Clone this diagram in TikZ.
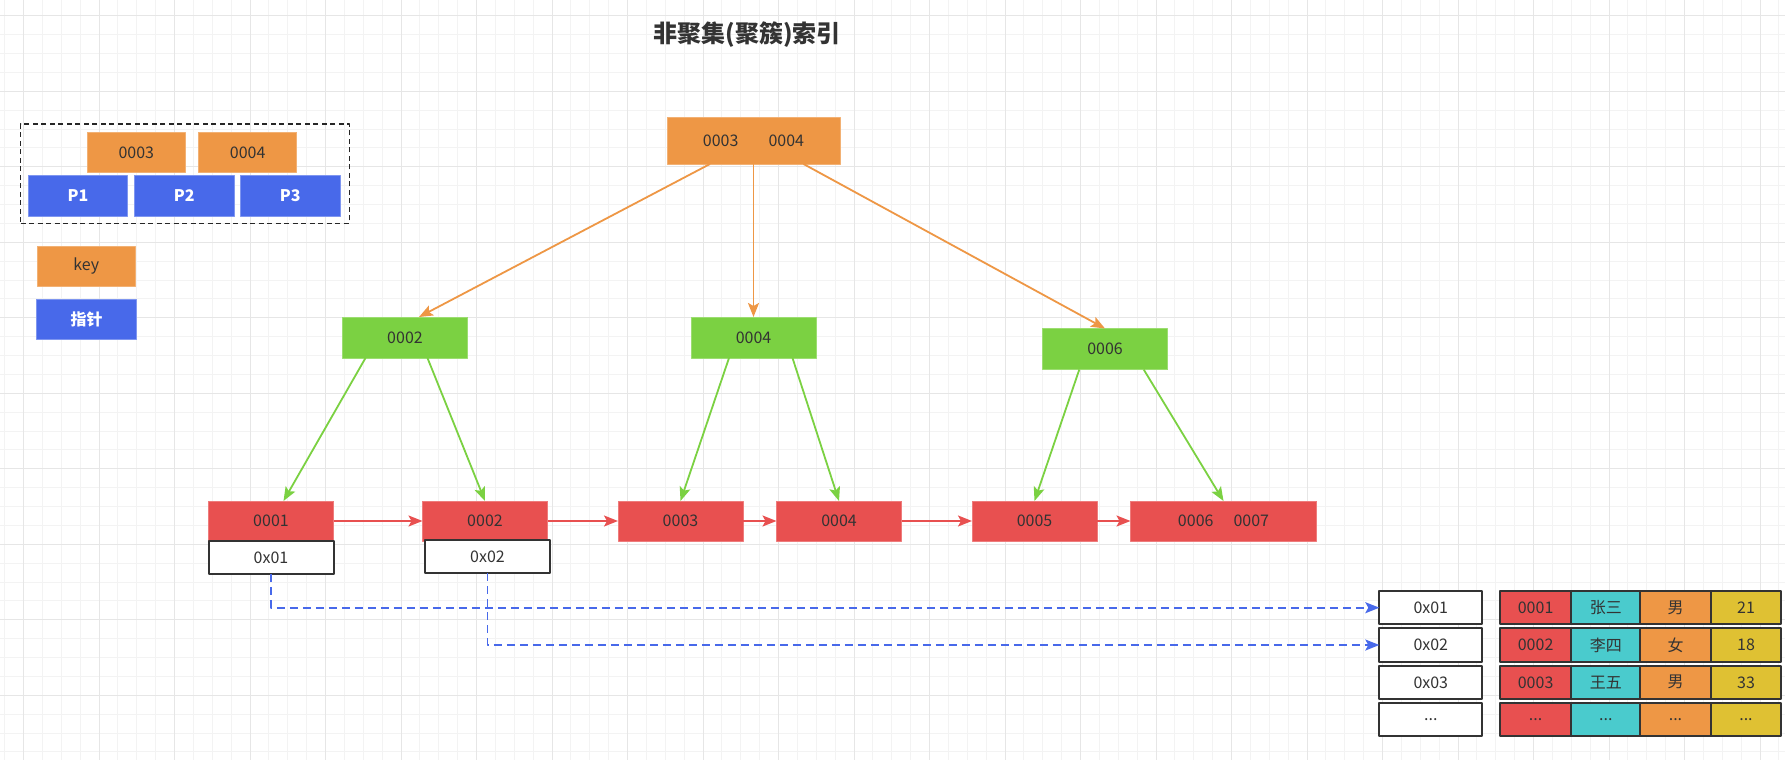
\documentclass[tikz,border=0pt]{standalone}
\usepackage{fontspec}
\setmainfont{Noto Sans CJK SC}
\usetikzlibrary{arrows.meta}
\definecolor{keyorange}{HTML}{EE9745}
\definecolor{ptrblue}{HTML}{4869EA}
\definecolor{innergreen}{HTML}{7BD142}
\definecolor{leafred}{HTML}{E85050}
\definecolor{namecyan}{HTML}{4ACBCD}
\definecolor{ageyellow}{HTML}{DFC133}
\definecolor{txtgray}{HTML}{333333}
\definecolor{gridminor}{HTML}{F3F3F3}
\definecolor{gridmajor}{HTML}{E6E6E6}
\def\dd{...}
\begin{document}
\begin{tikzpicture}[x=1pt,y=-1pt,font=\fontsize{16}{19}\selectfont,line join=round,
		>={Stealth[length=14pt,width=11pt,inset=3pt]},
		box/.style={inner sep=0pt,outer sep=0pt,text=txtgray,minimum width=125pt,minimum height=40pt},
		keybox/.style={box,fill=keyorange,draw=keyorange!75!white,line width=1pt},
		ptrbox/.style={box,fill=ptrblue,draw=ptrblue!70!white,line width=1pt,text=white,font=\fontsize{16}{19}\selectfont\bfseries},
		innerbox/.style={box,fill=innergreen,draw=innergreen!75!white,line width=1pt,minimum height=41pt},
		leafbox/.style={box,fill=leafred,draw=leafred!75!white,line width=1pt},
		addrbox/.style={box,fill=white,draw=txtgray,line width=2pt,minimum height=33.5pt},
		cellbox/.style={addrbox,minimum width=70.3pt},
		legendframe/.style={draw=black!85,line width=1.4pt,dash pattern=on 5pt off 3.5pt,inner sep=0pt},
		orangeedge/.style={draw=keyorange,line width=1.8pt,->},
		greenedge/.style={draw=innergreen,line width=1.8pt,->},
		rededge/.style={draw=leafred,line width=1.8pt,->},
		ptredge/.style={draw=ptrblue,line width=1.8pt,dash pattern=on 8pt off 5pt,->}]
	\def \W{1785}
	\def \H{760}
	\def \gx{23.6}
	\def \gy{15.8}
	\def \gs{18.875}
	\useasboundingbox (0,0) rectangle (\W,\H);
	\clip (0,0) rectangle (\W,\H);
	\fill[white] (0,0) rectangle (\W,\H);
	% background grid
	\foreach \i in {-2,...,94}
		\draw[gridminor,line width=1pt] ({\gx+\i*\gs},0) -- ({\gx+\i*\gs},\H);
	\foreach \j in {-1,...,40}
		\draw[gridminor,line width=1pt] (0,{\gy+\j*\gs}) -- (\W,{\gy+\j*\gs});
	\foreach \i in {-1,...,23}
		\draw[gridmajor,line width=1.2pt] ({\gx+\i*4*\gs},0) -- ({\gx+\i*4*\gs},\H);
	\foreach \j in {0,...,10}
		\draw[gridmajor,line width=1.2pt] (0,{\gy+\j*4*\gs}) -- (\W,{\gy+\j*4*\gs});

	\node[font=\fontsize{24}{28}\selectfont\bfseries,text=txtgray] (title) at (747,34.5) {非聚集(聚簇)索引};

	% legend
	\node[legendframe,minimum width=328.6pt,minimum height=99.3pt] (legend) at (185,173.6) {};
	\node[keybox,minimum width=98pt] (k3) at (136.3,152.3) {0003};
	\node[keybox,minimum width=98pt] (k4) at (247.7,152.3) {0004};
	\foreach \n/\cx in {1/78,2/184.3,3/290.3}
		\node[ptrbox,minimum width=99.5pt,minimum height=40.6pt] (p\n) at (\cx,196) {P\n};
	\node[keybox,minimum width=98pt] (key) at (86.3,266.2) {key};
	\node[ptrbox,minimum width=99.5pt] (ptr) at (86.5,319.2) {指针};

	% tree
	\node[keybox,minimum width=173pt,minimum height=47pt] (root) at (753.5,140.5) {0003\hspace{30pt}0004};
	\node[innerbox] (g2) at (405,337.5) {0002};
	\node[innerbox] (g4) at (753.5,337.5) {0004};
	\node[innerbox] (g6) at (1105,349) {0006};
	\node[leafbox] (r1) at (271,521) {0001};
	\node[leafbox] (r2) at (485,521) {0002};
	\node[leafbox] (r3) at (680.5,521) {0003};
	\node[leafbox] (r4) at (839,521) {0004};
	\node[leafbox] (r5) at (1034.5,521) {0005};
	\node[leafbox,minimum width=186pt] (r67) at (1223.5,521) {0006\hspace{20pt}0007};
	\node[addrbox] (a1) at (271,557.7) {0x01};
	\node[addrbox] (a2) at (487.5,556.7) {0x02};

	% rows of the table
	\foreach \ad/\id/\nm/\sx/\ag [count=\r] in {0x01/0001/张三/男/21,0x02/0002/李四/女/18,0x03/0003/王五/男/33,\dd/\dd/\dd/\dd/\dd}{
		\node[addrbox,minimum width=103pt] (t\r) at (1430.8,{570.4+\r*37.3}) {\ad};
		\node[cellbox,fill=leafred] (c\r a) at (1535.6,{570.4+\r*37.3}) {\id};
		\node[cellbox,fill=namecyan] (c\r b) at (1605.9,{570.4+\r*37.3}) {\nm};
		\node[cellbox,fill=keyorange] (c\r c) at (1675.5,{570.4+\r*37.3}) {\sx};
		\node[cellbox,fill=ageyellow] (c\r d) at (1746,{570.4+\r*37.3}) {\ag};
	}

	\draw[orangeedge] ([xshift=-43.5pt]root.south) -- ([xshift=14pt]g2.north);
	\draw[orangeedge] (root.south) -- (g4.north);
	\draw[orangeedge] ([xshift=50pt]root.south) -- (g6.north);
	\draw[greenedge] ([xshift=-39.5pt]g2.south) -- ([xshift=12.5pt]r1.north);
	\draw[greenedge] ([xshift=22.5pt]g2.south) -- (r2.north);
	\draw[greenedge] ([xshift=-24.5pt]g4.south) -- (r3.north);
	\draw[greenedge] ([xshift=39pt]g4.south) -- (r4.north);
	\draw[greenedge] ([xshift=-25.7pt]g6.south) -- (r5.north);
	\draw[greenedge] ([xshift=38.7pt]g6.south) -- (r67.north);
	\foreach \a/\b in {r1/r2,r2/r3,r3/r4,r4/r5,r5/r67}
		\draw[rededge] (\a) -- (\b);
	\draw[ptredge] (a1.south) |- (t1.west);
	\draw[ptredge] (a2.south) |- (t2.west);
\end{tikzpicture}
\end{document}
